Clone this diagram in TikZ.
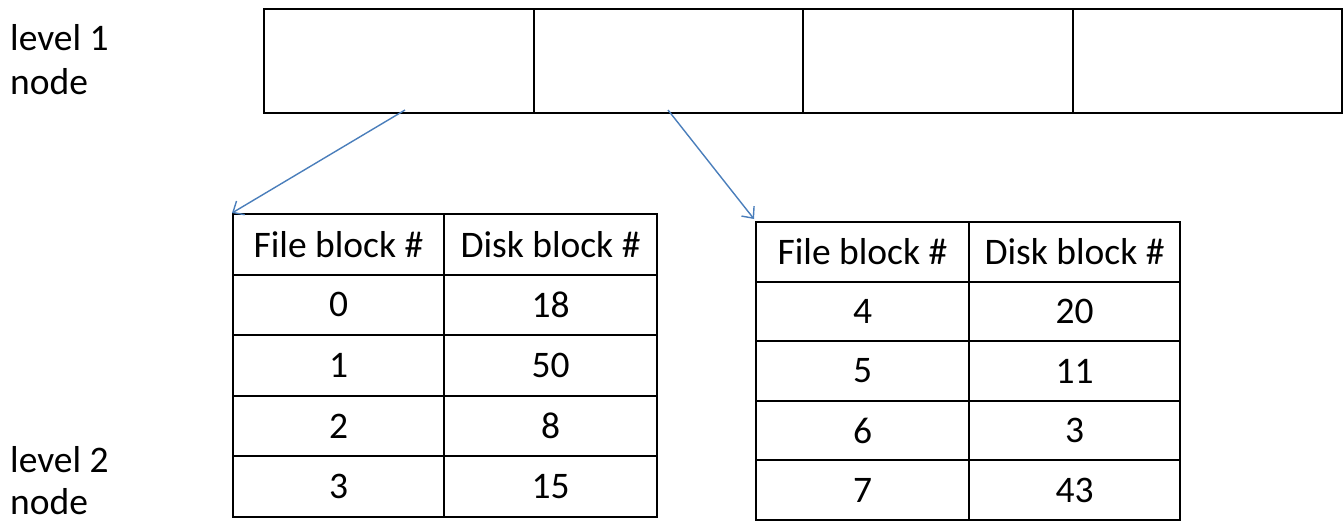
\documentclass[tikz,border=0pt]{standalone}
\usepackage{fontspec}
\setmainfont{Carlito}
\usetikzlibrary{arrows.meta}
\definecolor{arrowblue}{HTML}{4A7EBB}
\begin{document}
\begin{tikzpicture}[x=1pt,y=-1pt,
  every node/.style={font=\fontsize{37.5}{44}\selectfont},
  cell/.style 2 args={draw=black,line width=2pt,rectangle,inner sep=0pt,
    anchor=north west,minimum width=#1pt,minimum height=#2pt},
  link/.style={draw=arrowblue,line width=1.4pt,-{Straight Barb[length=9pt,width=16pt,line width=1.4pt]}},
  label/.style={anchor=base west,inner sep=0pt,align=left}]
\useasboundingbox (0,0) rectangle (1344,520);
% level 1 node
\node[cell={269.5}{104}] (top1) at (263,8) {};
\node[cell={269.5}{104}] (top2) at (532.5,8) {};
\node[cell={269.5}{104}] (top3) at (802,8) {};
\node[cell={269.5}{104}] (top4) at (1071.5,8) {};
% left table
\foreach \r/\a/\b in {0/File block \#/Disk block \#,1/0/18,2/1/50,3/2/8,4/3/15}{
  \node[cell={211}{60.6}] (L\r a) at (232,213+60.6*\r) {\a};
  \node[cell={213}{60.6}] (L\r b) at (443,213+60.6*\r) {\b};
}
% right table
\foreach \r/\a/\b in {0/File block \#/Disk block \#,1/4/20,2/5/11,3/6/3,4/7/43}{
  \node[cell={213}{59.6}] (R\r a) at (755,221+59.6*\r) {\a};
  \node[cell={211}{59.6}] (R\r b) at (968,221+59.6*\r) {\b};
}
% labels
\node[label] (lab1) at (10,50) {level 1};
\node[label] (lab1b) at (10,94) {node};
\node[label] (lab2) at (10,472) {level 2};
\node[label] (lab2b) at (10,514) {node};
% arrows
\coordinate (s1) at (405,110);
\coordinate (s2) at (668,110);
\draw[link] (s1) -- (L0a.north west);
\draw[link] (s2) -- ([shift={(-1,-2)}]R0a.north west);
\end{tikzpicture}
\end{document}
